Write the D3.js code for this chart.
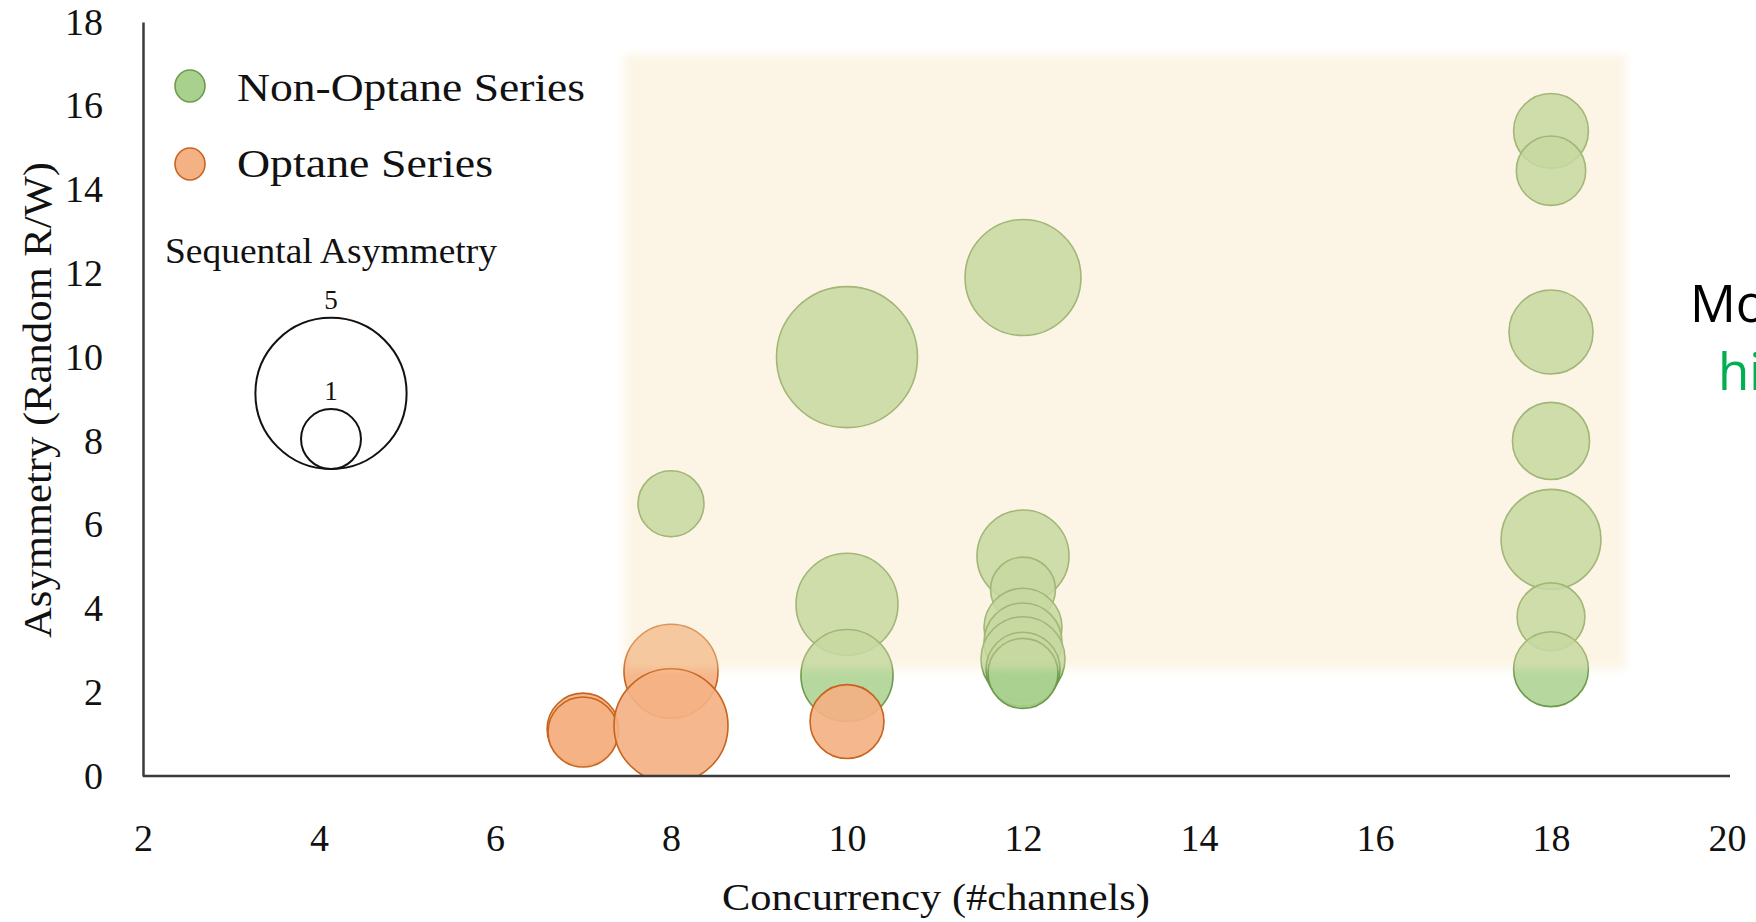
<!DOCTYPE html>
<html>
<head>
<meta charset="utf-8">
<script src="https://cdn.jsdelivr.net/npm/d3@7"></script>
<style>
  html, body { margin: 0; padding: 0; background: #fff; overflow: hidden; }
  svg { display: block; }
</style>
</head>
<body>
<svg id="chart" width="1756" height="922"></svg>
<script>
// Axis ticks
const xTicks = [2, 4, 6, 8, 10, 12, 14, 16, 18, 20];
const yTicks = [0, 2, 4, 6, 8, 10, 12, 14, 16, 18];

// Non-Optane drives: concurrency, random R/W asymmetry, sequential asymmetry
const nonOptaneX   = [8,    10,   10,   10,   12,   12,   12,   12,   12,   12,   12,   12,   18,   18,    18,   18,   18,   18,   18];
const nonOptaneY   = [6.5,  10.0, 4.1,  2.4,  11.9, 5.25, 4.45, 3.55, 3.2,  2.8,  2.55, 2.45, 15.4, 14.45, 10.6, 8.0,  5.65, 3.8,  2.55];
const nonOptaneSeq = [1.18, 4.43, 2.52, 2.11, 3.15, 2.11, 1.15, 1.58, 1.58, 1.80, 1.44, 1.31, 1.47, 1.29,  1.80, 1.55, 2.43, 1.24, 1.47];

// Optane drives
const optaneX   = [7,    7,    8,    8,    10];
const optaneY   = [1.12, 1.05, 2.5,  1.2,  1.3];
const optaneSeq = [1.37, 1.31, 2.19, 3.06, 1.44];

// Highlighted region (data units)
const highlightX = [7.47, 18.85];
const highlightY = [2.55, 17.22];

// Size legend values
const sizeLegend = [5, 1];

const svg = d3.select("#chart");
const serif = "'Liberation Serif', 'Times New Roman', serif";

const x = d3.scaleLinear().domain([2, 20]).range([143, 1727]);
const y = d3.scaleLinear().domain([0, 18]).range([776, 22]);
const r = d3.scalePow().exponent(0.575).domain([0, 5]).range([0, 75.6]);

const defs = svg.append("defs");
defs.append("clipPath").attr("id", "plotClip")
  .append("rect")
  .attr("x", x(2)).attr("y", y(18))
  .attr("width", x(20) - x(2) + 10).attr("height", y(0) - y(18));
defs.append("filter").attr("id", "soft")
  .attr("x", "-5%").attr("y", "-5%").attr("width", "110%").attr("height", "110%")
  .append("feGaussianBlur").attr("stdDeviation", 4);

const plot = svg.append("g").attr("clip-path", "url(#plotClip)");

const green = nonOptaneX.map((d, i) => ({ x: d, y: nonOptaneY[i], s: nonOptaneSeq[i] }));
const orange = optaneX.map((d, i) => ({ x: d, y: optaneY[i], s: optaneSeq[i] }));

plot.selectAll("circle.nonoptane").data(green).join("circle")
  .attr("class", "nonoptane")
  .attr("cx", d => x(d.x)).attr("cy", d => y(d.y)).attr("r", d => r(d.s))
  .attr("fill", "#a9d18e").attr("fill-opacity", 0.85)
  .attr("stroke", "#6e9a4c").attr("stroke-width", 1.6);

plot.selectAll("circle.optane").data(orange).join("circle")
  .attr("class", "optane")
  .attr("cx", d => x(d.x)).attr("cy", d => y(d.y)).attr("r", d => r(d.s))
  .attr("fill", "#f4b183").attr("fill-opacity", 0.92)
  .attr("stroke", "#c8641e").attr("stroke-width", 1.6);

// Highlight wash drawn over the bubbles
svg.append("rect")
  .attr("x", x(highlightX[0])).attr("y", y(highlightY[1]))
  .attr("width", x(highlightX[1]) - x(highlightX[0]))
  .attr("height", y(highlightY[0]) - y(highlightY[1]))
  .attr("fill", "#f8e6be").attr("fill-opacity", 0.38)
  .attr("filter", "url(#soft)");

// Axes
const xAxis = svg.append("g").attr("transform", `translate(0,${y(0)})`)
  .call(d3.axisBottom(x).tickValues(xTicks).tickSize(0).tickPadding(48).tickFormat(d3.format("d")));
const yAxis = svg.append("g").attr("transform", `translate(${x(2)},0)`)
  .call(d3.axisLeft(y).tickValues(yTicks).tickSize(0).tickPadding(40).tickFormat(d3.format("d")));
[xAxis, yAxis].forEach(g => {
  g.select(".domain").attr("stroke", "#3a3a3a").attr("stroke-width", 2.5);
  g.selectAll("text").attr("font-family", serif).attr("font-size", 38).attr("fill", "#111");
});
xAxis.select(".domain").attr("d", `M0,0H${x(20) + 3 - 0}`).attr("transform", null);
xAxis.select(".domain").attr("d", `M${x(2)},0H${x(20) + 3}`);

// Axis titles
svg.append("text")
  .attr("x", 936).attr("y", 910)
  .attr("text-anchor", "middle")
  .attr("font-family", serif).attr("font-size", 38).attr("fill", "#111")
  .attr("textLength", 428).attr("lengthAdjust", "spacingAndGlyphs")
  .text("Concurrency (#channels)");
svg.append("text")
  .attr("transform", "translate(51,400) rotate(-90)")
  .attr("text-anchor", "middle")
  .attr("font-family", serif).attr("font-size", 40).attr("fill", "#111")
  .attr("textLength", 476).attr("lengthAdjust", "spacingAndGlyphs")
  .text("Asymmetry (Random R/W)");

// Colour legend
const legend = [
  { label: "Non-Optane Series", fill: "#a9d18e", stroke: "#6e9a4c", cy: 86, base: 101, w: 348 },
  { label: "Optane Series", fill: "#f4b183", stroke: "#c8641e", cy: 164, base: 177, w: 256 }
];
const lg = svg.append("g");
lg.selectAll("ellipse").data(legend).join("ellipse")
  .attr("cx", 190).attr("cy", d => d.cy).attr("rx", 15).attr("ry", 16)
  .attr("fill", d => d.fill).attr("stroke", d => d.stroke).attr("stroke-width", 1.6);
lg.selectAll("text").data(legend).join("text")
  .attr("x", 237).attr("y", d => d.base)
  .attr("font-family", serif).attr("font-size", 40).attr("fill", "#111")
  .attr("textLength", d => d.w).attr("lengthAdjust", "spacingAndGlyphs")
  .text(d => d.label);

// Size legend
svg.append("text")
  .attr("x", 165).attr("y", 263)
  .attr("font-family", serif).attr("font-size", 35).attr("fill", "#111")
  .attr("textLength", 332).attr("lengthAdjust", "spacingAndGlyphs")
  .text("Sequental Asymmetry");
const sizeBase = 469, sizeCx = 331;
const sl = svg.append("g");
sl.selectAll("circle").data(sizeLegend).join("circle")
  .attr("cx", sizeCx).attr("cy", d => sizeBase - r(d)).attr("r", d => r(d))
  .attr("fill", "none").attr("stroke", "#111").attr("stroke-width", 2);
sl.selectAll("text").data(sizeLegend).join("text")
  .attr("x", sizeCx).attr("y", d => sizeBase - 2 * r(d) - 9)
  .attr("text-anchor", "middle")
  .attr("font-family", serif).attr("font-size", 27).attr("fill", "#111")
  .text(d => d);

// Side caption
svg.append("text").attr("x", 1690).attr("y", 322)
  .attr("font-family", "'Open Sans', sans-serif").attr("font-size", 51).attr("fill", "#000")
  .text("Mo");
svg.append("text").attr("x", 1718).attr("y", 390)
  .attr("font-family", "'Open Sans', sans-serif").attr("font-size", 51).attr("fill", "#00b050")
  .text("hi");
</script>
</body>
</html>
